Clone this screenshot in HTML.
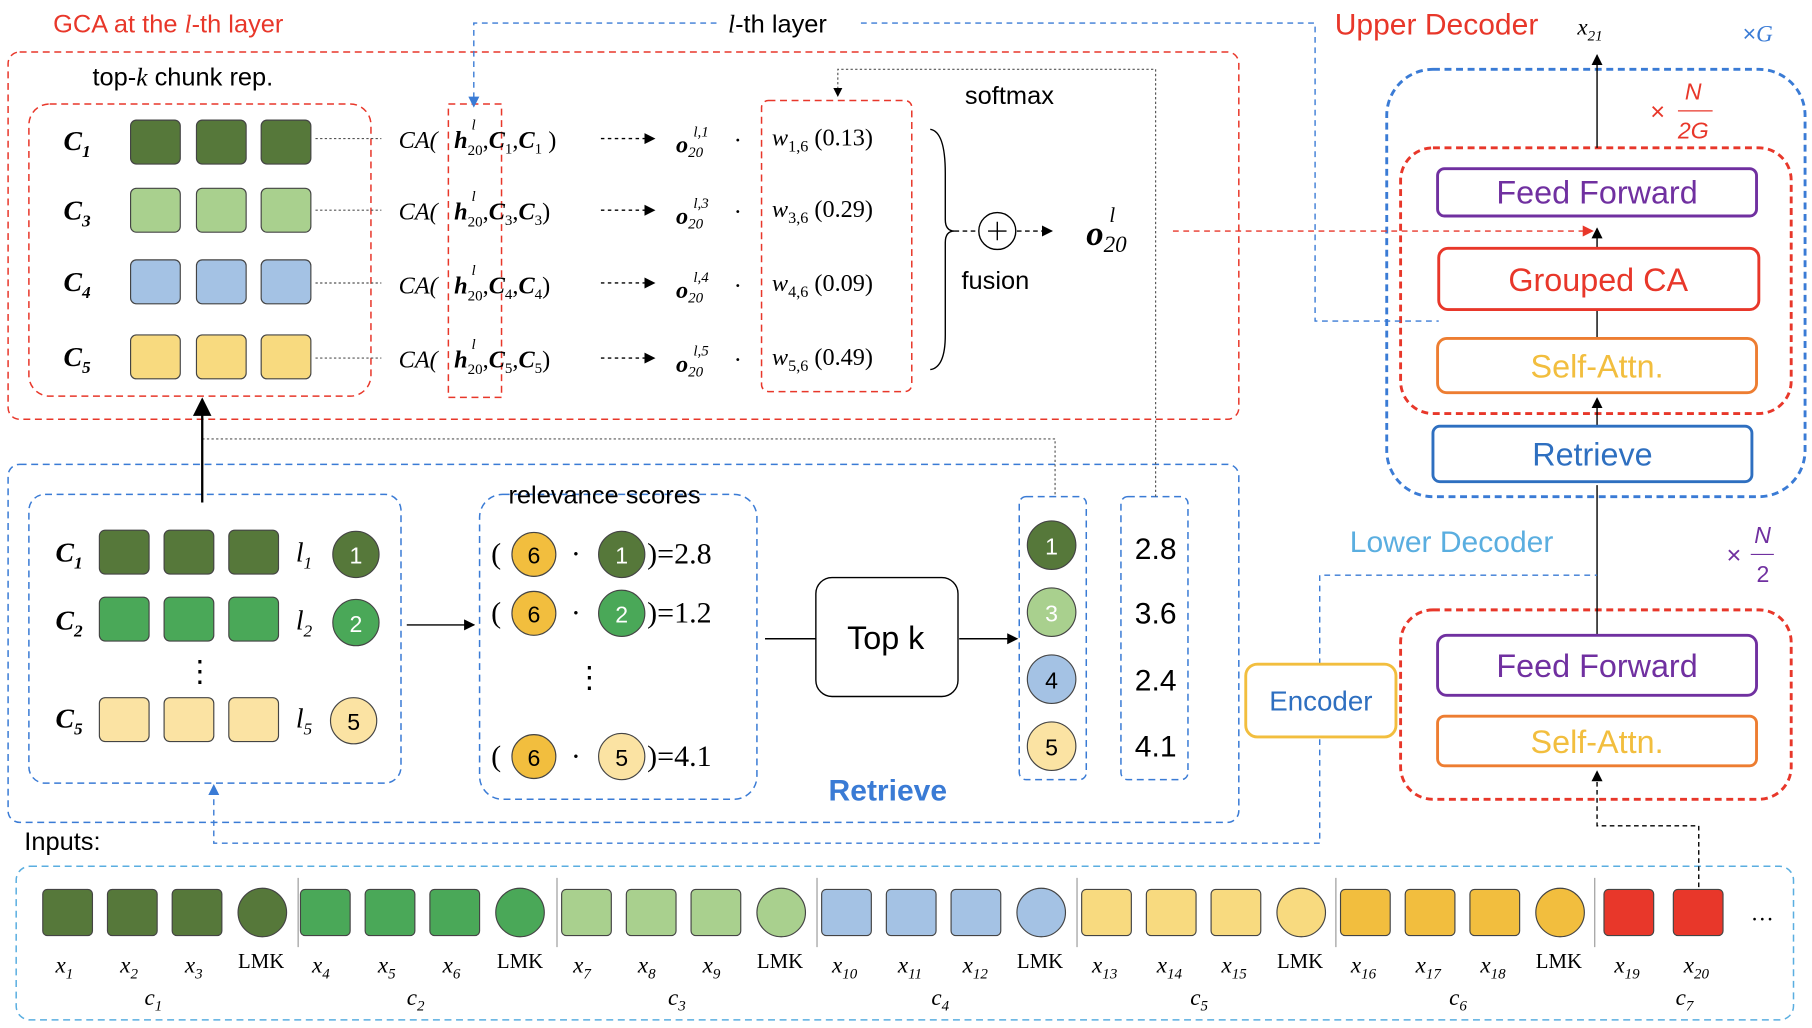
<!DOCTYPE html>
<html><head><meta charset="utf-8"><style>body{margin:0;background:#fff}svg{display:block}text{font-family:"Liberation Sans",sans-serif}.s,.s text,.ser,.ser text,.ser tspan{font-family:"Liberation Serif",serif}.s,.s text{font-style:italic}</style></head><body>
<svg width="1812" height="1028" viewBox="0 0 1568 890" preserveAspectRatio="none" xmlns="http://www.w3.org/2000/svg">
<defs><marker id="a" markerWidth="8" markerHeight="8" refX="7" refY="4" orient="auto"><path d="M0,0L8,4L0,8z" fill="#000"/></marker>
<marker id="r" markerWidth="8" markerHeight="8" refX="7" refY="4" orient="auto"><path d="M0,0L8,4L0,8z" fill="#e8372a"/></marker>
<marker id="b" markerWidth="8" markerHeight="8" refX="7" refY="4" orient="auto"><path d="M0,0L8,4L0,8z" fill="#3a7bd5"/></marker></defs>
<g fill="none" stroke-dasharray="6,4" stroke-width="1.3">
<rect x="7" y="45" width="1065" height="318" rx="10" stroke="#e8372a"/>
<rect x="25" y="90" width="296" height="253" rx="18" stroke="#e8372a"/>
<rect x="388" y="90" width="46" height="254" stroke="#e8372a"/>
<rect x="659" y="87" width="130" height="252" rx="6" stroke="#e8372a"/>
<rect x="7" y="402" width="1065" height="310" rx="10" stroke="#3a7bd5"/>
<rect x="25" y="428" width="322" height="250" rx="14" stroke="#3a7bd5"/>
<rect x="415" y="428" width="240" height="264" rx="20" stroke="#3a7bd5"/>
<rect x="882" y="430" width="58" height="245" rx="6" stroke="#3a7bd5"/>
<rect x="970" y="430" width="58" height="245" rx="6" stroke="#3a7bd5"/>
<rect x="14" y="750" width="1538" height="133" rx="12" stroke="#5aaee0"/>
<rect x="1200" y="60" width="362" height="370" rx="40" stroke="#3a7bd5" stroke-width="2.5"/>
<rect x="1212" y="128" width="338" height="230" rx="28" stroke="#e8372a" stroke-width="2.5"/>
<rect x="1212" y="528" width="338" height="164" rx="28" stroke="#e8372a" stroke-width="2.5"/>
</g>
<g stroke="#444" stroke-width="1">
<rect x="113" y="104" width="43" height="38" rx="5" fill="#56783a"/><rect x="170" y="104" width="43" height="38" rx="5" fill="#56783a"/><rect x="226" y="104" width="43" height="38" rx="5" fill="#56783a"/>
<rect x="113" y="163" width="43" height="38" rx="5" fill="#a9d08e"/><rect x="170" y="163" width="43" height="38" rx="5" fill="#a9d08e"/><rect x="226" y="163" width="43" height="38" rx="5" fill="#a9d08e"/>
<rect x="113" y="225" width="43" height="38" rx="5" fill="#a4c2e4"/><rect x="170" y="225" width="43" height="38" rx="5" fill="#a4c2e4"/><rect x="226" y="225" width="43" height="38" rx="5" fill="#a4c2e4"/>
<rect x="113" y="290" width="43" height="38" rx="5" fill="#f8da7f"/><rect x="170" y="290" width="43" height="38" rx="5" fill="#f8da7f"/><rect x="226" y="290" width="43" height="38" rx="5" fill="#f8da7f"/>
<rect x="86" y="459" width="43" height="38" rx="5" fill="#56783a"/><rect x="142" y="459" width="43" height="38" rx="5" fill="#56783a"/><rect x="198" y="459" width="43" height="38" rx="5" fill="#56783a"/>
<rect x="86" y="517" width="43" height="38" rx="5" fill="#4aa858"/><rect x="142" y="517" width="43" height="38" rx="5" fill="#4aa858"/><rect x="198" y="517" width="43" height="38" rx="5" fill="#4aa858"/>
<rect x="86" y="604" width="43" height="38" rx="5" fill="#fbe3a3"/><rect x="142" y="604" width="43" height="38" rx="5" fill="#fbe3a3"/><rect x="198" y="604" width="43" height="38" rx="5" fill="#fbe3a3"/>
<circle cx="308" cy="480" r="20" fill="#56783a"/><circle cx="308" cy="539" r="20" fill="#4aa858"/><circle cx="306" cy="624" r="20" fill="#fbe3a3"/>
<circle cx="462" cy="480" r="19" fill="#f2be3e"/><circle cx="538" cy="480" r="20" fill="#56783a"/>
<circle cx="462" cy="531" r="19" fill="#f2be3e"/><circle cx="538" cy="531" r="20" fill="#4aa858"/>
<circle cx="462" cy="655" r="19" fill="#f2be3e"/><circle cx="538" cy="655" r="20" fill="#fbe3a3"/>
<circle cx="910" cy="472" r="21" fill="#56783a"/><circle cx="910" cy="530" r="21" fill="#a9d08e"/><circle cx="910" cy="588" r="21" fill="#a4c2e4"/><circle cx="910" cy="646" r="21" fill="#fbe3a3"/>
</g>
<g font-size="20" text-anchor="middle">
<text x="308" y="488" fill="#fff">1</text><text x="308" y="547" fill="#fff">2</text><text x="306" y="632">5</text>
<text x="462" y="488">6</text><text x="538" y="488" fill="#fff">1</text><text x="462" y="539">6</text><text x="538" y="539" fill="#fff">2</text><text x="462" y="663">6</text><text x="538" y="663">5</text>
<text x="910" y="480" fill="#fff">1</text><text x="910" y="538" fill="#fff">3</text><text x="910" y="596">4</text><text x="910" y="654">5</text>
</g>
<g font-size="26" class="ser">
<text x="425" y="488">(</text><text x="494" y="488">·</text><text x="560" y="488">)=2.8</text>
<text x="425" y="539">(</text><text x="494" y="539">·</text><text x="560" y="539">)=1.2</text>
<text x="425" y="663">(</text><text x="494" y="663">·</text><text x="560" y="663">)=4.1</text>
<text x="497" y="595">⋮</text><text x="160" y="590">⋮</text>
</g>
<g font-size="26"><text x="982" y="484">2.8</text><text x="982" y="540">3.6</text><text x="982" y="598">2.4</text><text x="982" y="655">4.1</text></g>
<g class="s" font-size="24" font-weight="bold">
<text x="55" y="130">C<tspan font-size="15" dy="6">1</tspan></text><text x="55" y="190">C<tspan font-size="15" dy="6">3</tspan></text><text x="55" y="252">C<tspan font-size="15" dy="6">4</tspan></text><text x="55" y="317">C<tspan font-size="15" dy="6">5</tspan></text>
<text x="48" y="486">C<tspan font-size="15" dy="6">1</tspan></text><text x="48" y="545">C<tspan font-size="15" dy="6">2</tspan></text><text x="48" y="630">C<tspan font-size="15" dy="6">5</tspan></text>
</g>
<g class="s" font-size="24"><text x="256" y="486">l<tspan font-size="15" dy="6">1</tspan></text><text x="256" y="545">l<tspan font-size="15" dy="6">2</tspan></text><text x="256" y="630">l<tspan font-size="15" dy="6">5</tspan></text></g>
<g stroke="#555" stroke-dasharray="2,2" fill="none"><path d="M273 120H330M273 182H330M273 245H330M273 310H330"/><path d="M1000 430V60H725V83" marker-end="url(#a)"/><path d="M175 380H913V430"/></g>
<g font-size="21" class="ser">
<text x="345" y="128" class="s">CA(</text><text x="345" y="190" class="s">CA(</text><text x="345" y="254" class="s">CA(</text><text x="345" y="318" class="s">CA(</text>
<text x="393" y="128"><tspan font-weight="bold" font-style="italic">h</tspan><tspan font-size="13" dy="6">20</tspan><tspan dy="-6">,</tspan><tspan font-weight="bold" font-style="italic">C</tspan><tspan font-size="13" dy="5">1</tspan><tspan dy="-5">,</tspan><tspan font-weight="bold" font-style="italic">C</tspan><tspan font-size="13" dy="5">1</tspan><tspan dy="-5"> )</tspan></text>
<text x="393" y="190"><tspan font-weight="bold" font-style="italic">h</tspan><tspan font-size="13" dy="6">20</tspan><tspan dy="-6">,</tspan><tspan font-weight="bold" font-style="italic">C</tspan><tspan font-size="13" dy="5">3</tspan><tspan dy="-5">,</tspan><tspan font-weight="bold" font-style="italic">C</tspan><tspan font-size="13" dy="5">3</tspan><tspan dy="-5">)</tspan></text>
<text x="393" y="254"><tspan font-weight="bold" font-style="italic">h</tspan><tspan font-size="13" dy="6">20</tspan><tspan dy="-6">,</tspan><tspan font-weight="bold" font-style="italic">C</tspan><tspan font-size="13" dy="5">4</tspan><tspan dy="-5">,</tspan><tspan font-weight="bold" font-style="italic">C</tspan><tspan font-size="13" dy="5">4</tspan><tspan dy="-5">)</tspan></text>
<text x="393" y="318"><tspan font-weight="bold" font-style="italic">h</tspan><tspan font-size="13" dy="6">20</tspan><tspan dy="-6">,</tspan><tspan font-weight="bold" font-style="italic">C</tspan><tspan font-size="13" dy="5">5</tspan><tspan dy="-5">,</tspan><tspan font-weight="bold" font-style="italic">C</tspan><tspan font-size="13" dy="5">5</tspan><tspan dy="-5">)</tspan></text>
<g font-size="13" font-style="italic"><text x="408" y="112">l</text><text x="408" y="174">l</text><text x="408" y="238">l</text><text x="408" y="302">l</text></g>
<text x="585" y="132" font-weight="bold" font-style="italic">o<tspan font-size="13" font-weight="normal" dy="4">20</tspan></text><text x="600" y="118" font-size="13" font-style="italic">l,1</text>
<text x="585" y="194" font-weight="bold" font-style="italic">o<tspan font-size="13" font-weight="normal" dy="4">20</tspan></text><text x="600" y="180" font-size="13" font-style="italic">l,3</text>
<text x="585" y="258" font-weight="bold" font-style="italic">o<tspan font-size="13" font-weight="normal" dy="4">20</tspan></text><text x="600" y="244" font-size="13" font-style="italic">l,4</text>
<text x="585" y="322" font-weight="bold" font-style="italic">o<tspan font-size="13" font-weight="normal" dy="4">20</tspan></text><text x="600" y="308" font-size="13" font-style="italic">l,5</text>
<text x="635" y="128">·</text><text x="635" y="190">·</text><text x="635" y="254">·</text><text x="635" y="318">·</text>
<text x="668" y="126"><tspan font-style="italic">w</tspan><tspan font-size="14" dy="5">1,6</tspan><tspan dy="-5"> (0.13)</tspan></text>
<text x="668" y="188"><tspan font-style="italic">w</tspan><tspan font-size="14" dy="5">3,6</tspan><tspan dy="-5"> (0.29)</tspan></text>
<text x="668" y="252"><tspan font-style="italic">w</tspan><tspan font-size="14" dy="5">4,6</tspan><tspan dy="-5"> (0.09)</tspan></text>
<text x="668" y="316"><tspan font-style="italic">w</tspan><tspan font-size="14" dy="5">5,6</tspan><tspan dy="-5"> (0.49)</tspan></text>
<text x="940" y="212" font-size="30" font-weight="bold" font-style="italic">o<tspan font-size="20" font-weight="normal" dy="6">20</tspan></text><text x="960" y="192" font-size="18" font-style="italic">l</text>
<text x="1365" y="30" font-size="20" font-style="italic">x<tspan font-size="13" dy="5">21</tspan></text>
</g>
<g stroke="#000" stroke-width="1.2" fill="none">
<g stroke-dasharray="3,3"><path d="M520 120H566" marker-end="url(#a)"/><path d="M520 182H566" marker-end="url(#a)"/><path d="M520 245H566" marker-end="url(#a)"/><path d="M520 310H566" marker-end="url(#a)"/></g>
<path d="M805 112Q818 114 818 150V190Q818 200 826 200Q818 200 818 210V290Q818 318 805 320"/>
<circle cx="863" cy="200" r="16"/><path d="M855 200H871M863 192V208"/>
<path d="M880 200H910" stroke-dasharray="4,3" marker-end="url(#a)"/><path d="M826 200H845" stroke-dasharray="4,3"/>
<path d="M175 435V346" marker-end="url(#a)" stroke-width="2"/>
<path d="M352 541H410" marker-end="url(#a)"/>
<path d="M662 553H706"/><path d="M830 553H880" marker-end="url(#a)"/>
<rect x="706" y="500" width="123" height="103" rx="14"/>
<path d="M1382 128V48" marker-end="url(#a)"/>
<path d="M1382 550V420"/><path d="M1382 369V345" marker-end="url(#a)"/>
<path d="M1382 293V268"/><path d="M1382 215V198" marker-end="url(#a)"/>
<path d="M1470 768V715H1382V668" stroke-dasharray="4,3" marker-end="url(#a)"/>
</g>
<g fill="none" stroke-width="1.2" stroke-dasharray="5,4">
<path d="M1015 200H1378" stroke="#e8372a" marker-end="url(#r)"/>
<path d="M620 20H410V92" stroke="#3a7bd5" marker-end="url(#b)"/>
<path d="M745 20H1138V278H1245" stroke="#3a7bd5"/>
<path d="M1142 640V730H185V680" stroke="#3a7bd5" marker-end="url(#b)"/>
<path d="M1142 575V498H1382" stroke="#3a7bd5"/>
</g>
<g font-size="22">
<text x="46" y="28" fill="#e8372a">GCA at the <tspan class="s" font-family="Liberation Serif" font-style="italic">l</tspan>-th layer</text>
<text x="630" y="28"><tspan font-family="Liberation Serif" font-style="italic">l</tspan>-th layer</text>
<text x="80" y="74">top-<tspan font-family="Liberation Serif" font-style="italic">k</tspan> chunk rep.</text>
<text x="835" y="90">softmax</text><text x="832" y="250">fusion</text>
<text x="440" y="436">relevance scores</text>
<text x="21" y="736">Inputs:</text>
<text x="1155" y="30" fill="#e8372a" font-size="26">Upper Decoder</text>
<text x="1508" y="36" fill="#3a7bd5" font-size="20">×<tspan font-family="Liberation Serif" font-style="italic">G</tspan></text>
<text x="1428" y="104" fill="#e8372a">×</text><text x="1458" y="86" fill="#e8372a" font-family="Liberation Serif" font-style="italic" font-size="20">N</text><path d="M1452 96H1482" stroke="#e8372a"/><text x="1452" y="120" fill="#e8372a" font-family="Liberation Serif" font-style="italic" font-size="20">2G</text>
<text x="1168" y="478" fill="#5aaee0" font-size="26">Lower Decoder</text>
<text x="1494" y="488" fill="#7030a0">×</text><text x="1518" y="470" fill="#7030a0" font-family="Liberation Serif" font-style="italic" font-size="20">N</text><path d="M1515 480H1535" stroke="#7030a0"/><text x="1520" y="504" fill="#7030a0" font-size="20">2</text>
<text x="733" y="562" font-size="28">Top k</text>
<text x="717" y="693" font-size="26" font-weight="bold" fill="#3a7bd5">Retrieve</text>
</g>
<g stroke-width="2.5" fill="#fff">
<rect x="1244" y="146" width="276" height="41" rx="6" stroke="#7030a0"/>
<rect x="1245" y="215" width="277" height="53" rx="8" stroke="#e8372a"/>
<rect x="1244" y="293" width="276" height="47" rx="8" stroke="#ed7d31"/>
<rect x="1240" y="369" width="276" height="48" rx="6" stroke="#2e6fc0"/>
<rect x="1244" y="550" width="276" height="52" rx="8" stroke="#7030a0"/>
<rect x="1244" y="620" width="276" height="43" rx="6" stroke="#ed7d31"/>
<rect x="1078" y="575" width="130" height="63" rx="10" stroke="#f2be3e"/>
</g>
<g font-size="28" text-anchor="middle">
<text x="1382" y="176" fill="#7030a0">Feed Forward</text>
<text x="1383" y="252" fill="#e8372a">Grouped CA</text>
<text x="1382" y="327" fill="#f2be3e">Self-Attn.</text>
<text x="1378" y="403" fill="#2e6fc0">Retrieve</text>
<text x="1382" y="586" fill="#7030a0">Feed Forward</text>
<text x="1382" y="652" fill="#f2be3e">Self-Attn.</text>
<text x="1143" y="615" fill="#2e6fc0" font-size="24">Encoder</text>
</g>
<g stroke="#444">
<rect x="37" y="770" width="43" height="40" rx="4" fill="#56783a"/><rect x="93" y="770" width="43" height="40" rx="4" fill="#56783a"/><rect x="149" y="770" width="43" height="40" rx="4" fill="#56783a"/><circle cx="227" cy="790" r="21" fill="#56783a"/>
<rect x="260" y="770" width="43" height="40" rx="4" fill="#4aa858"/><rect x="316" y="770" width="43" height="40" rx="4" fill="#4aa858"/><rect x="372" y="770" width="43" height="40" rx="4" fill="#4aa858"/><circle cx="450" cy="790" r="21" fill="#4aa858"/>
<rect x="486" y="770" width="43" height="40" rx="4" fill="#a9d08e"/><rect x="542" y="770" width="43" height="40" rx="4" fill="#a9d08e"/><rect x="598" y="770" width="43" height="40" rx="4" fill="#a9d08e"/><circle cx="676" cy="790" r="21" fill="#a9d08e"/>
<rect x="711" y="770" width="43" height="40" rx="4" fill="#a4c2e4"/><rect x="767" y="770" width="43" height="40" rx="4" fill="#a4c2e4"/><rect x="823" y="770" width="43" height="40" rx="4" fill="#a4c2e4"/><circle cx="901" cy="790" r="21" fill="#a4c2e4"/>
<rect x="936" y="770" width="43" height="40" rx="4" fill="#f8da7f"/><rect x="992" y="770" width="43" height="40" rx="4" fill="#f8da7f"/><rect x="1048" y="770" width="43" height="40" rx="4" fill="#f8da7f"/><circle cx="1126" cy="790" r="21" fill="#f8da7f"/>
<rect x="1160" y="770" width="43" height="40" rx="4" fill="#f2be3e"/><rect x="1216" y="770" width="43" height="40" rx="4" fill="#f2be3e"/><rect x="1272" y="770" width="43" height="40" rx="4" fill="#f2be3e"/><circle cx="1350" cy="790" r="21" fill="#f2be3e"/>
<rect x="1388" y="770" width="43" height="40" rx="4" fill="#e8372a"/><rect x="1448" y="770" width="43" height="40" rx="4" fill="#e8372a"/>
</g>
<path d="M258 760V820M482 760V820M707 760V820M932 760V820M1156 760V820M1380 760V820" stroke="#999"/>
<g font-size="20" class="ser">
<text x="1515" y="797">…</text>
<g class="s"><text x="48" y="842">x<tspan font-size="13" dy="5">1</tspan></text><text x="104" y="842">x<tspan font-size="13" dy="5">2</tspan></text><text x="160" y="842">x<tspan font-size="13" dy="5">3</tspan></text>
<text x="270" y="842">x<tspan font-size="13" dy="5">4</tspan></text><text x="327" y="842">x<tspan font-size="13" dy="5">5</tspan></text><text x="383" y="842">x<tspan font-size="13" dy="5">6</tspan></text>
<text x="496" y="842">x<tspan font-size="13" dy="5">7</tspan></text><text x="552" y="842">x<tspan font-size="13" dy="5">8</tspan></text><text x="608" y="842">x<tspan font-size="13" dy="5">9</tspan></text>
<text x="720" y="842">x<tspan font-size="13" dy="5">10</tspan></text><text x="777" y="842">x<tspan font-size="13" dy="5">11</tspan></text><text x="833" y="842">x<tspan font-size="13" dy="5">12</tspan></text>
<text x="945" y="842">x<tspan font-size="13" dy="5">13</tspan></text><text x="1001" y="842">x<tspan font-size="13" dy="5">14</tspan></text><text x="1057" y="842">x<tspan font-size="13" dy="5">15</tspan></text>
<text x="1169" y="842">x<tspan font-size="13" dy="5">16</tspan></text><text x="1225" y="842">x<tspan font-size="13" dy="5">17</tspan></text><text x="1281" y="842">x<tspan font-size="13" dy="5">18</tspan></text>
<text x="1397" y="842">x<tspan font-size="13" dy="5">19</tspan></text><text x="1457" y="842">x<tspan font-size="13" dy="5">20</tspan></text>
<text x="125" y="870">c<tspan font-size="13" dy="5">1</tspan></text><text x="352" y="870">c<tspan font-size="13" dy="5">2</tspan></text><text x="578" y="870">c<tspan font-size="13" dy="5">3</tspan></text><text x="806" y="870">c<tspan font-size="13" dy="5">4</tspan></text><text x="1030" y="870">c<tspan font-size="13" dy="5">5</tspan></text><text x="1254" y="870">c<tspan font-size="13" dy="5">6</tspan></text><text x="1450" y="870">c<tspan font-size="13" dy="5">7</tspan></text></g>
<g font-size="18"><text x="206" y="838">LMK</text><text x="430" y="838">LMK</text><text x="655" y="838">LMK</text><text x="880" y="838">LMK</text><text x="1105" y="838">LMK</text><text x="1329" y="838">LMK</text></g>
</g>
</svg>
</body></html>
